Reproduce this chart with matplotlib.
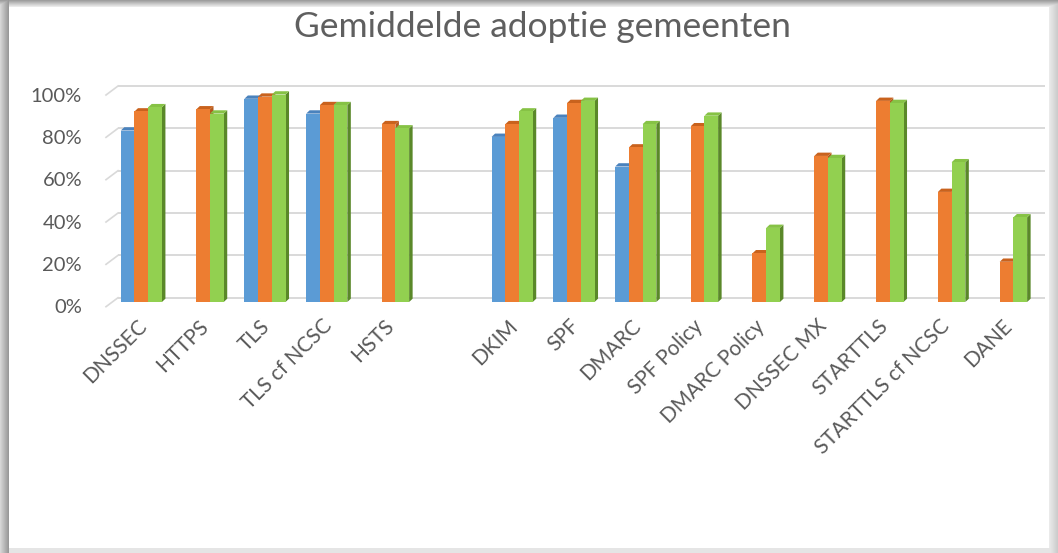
import numpy as np
import matplotlib
matplotlib.use("Agg")
import matplotlib.pyplot as plt
from matplotlib.patches import Polygon

# ---------------- data ----------------
categories = ["DNSSEC", "HTTPS", "TLS", "TLS cf NCSC", "HSTS", "",
              "DKIM", "SPF", "DMARC", "SPF Policy", "DMARC Policy",
              "DNSSEC MX", "STARTTLS", "STARTTLS cf NCSC", "DANE"]
series_blue = [81, None, 96, 89, None, None,
               78, 87, 64, None, None, None, None, None, None]
series_orange = [90, 91, 97, 93, 84, None,
                 84, 94, 73, 83, 23, 69, 95, 52, 19]
series_green = [92, 89, 98, 93, 82, None,
                90, 95, 84, 88, 35, 68, 94, 66, 40]
y_ticks = [0, 20, 40, 60, 80, 100]
y_ticklabels = ["0%", "20%", "40%", "60%", "80%", "100%"]
title = "Gemiddelde adoptie gemeenten"

# ---------------- figure ----------------
W, H = 1058, 553
DPI = 100
fig = plt.figure(figsize=(W / DPI, H / DPI), dpi=DPI)

# background frame with soft shadows (row 0 = top)
bg = np.ones((H, W, 3))
for x in range(0, 9):
    bg[:, x, :] = np.minimum(bg[:, x, :], 0.84 - 0.24 * x / 8)
for y in range(0, 7):
    bg[y, :, :] = np.minimum(bg[y, :, :], 0.62 + 0.05 * y)
for x in range(W - 9, W):
    bg[:, x, :] = np.minimum(bg[:, x, :], 0.92 - 0.12 * (x - (W - 9)) / 8)
for y in range(H - 5, H):
    bg[y, :, :] = np.minimum(bg[y, :, :], 0.90)
fig.figimage(bg, 0, 0, zorder=-5, origin="upper")

# plot area (front plane of bars), in pixels
left_px, right_px = 112.3, 1039.3
zero_px, hundred_px = 302.0, 90.3
ax = fig.add_axes([left_px / W, 1 - zero_px / H,
                   (right_px - left_px) / W, (zero_px - hundred_px) / H])
ax.set_zorder(2)
ax.set_xlim(-0.47, len(categories) - 0.47)
ax.set_ylim(0, 100)
ax.axis("off")
ax.patch.set_alpha(0)

ux = (len(categories)) / (right_px - left_px)      # data units per px (x)
uy = 100.0 / (zero_px - hundred_px)                # data units per px (y)

# back wall offset and floor-front offset (pixels)
back_dx, back_dy = 5.7 * ux, 4.3 * uy
floor_dx, floor_dy = -6.3 * ux, -4.7 * uy

grid_col = "#D9D9D9"
x0, x1 = ax.get_xlim()
for v in y_ticks:
    ax.plot([x0 + back_dx, x1 + back_dx], [v + back_dy, v + back_dy],
            color=grid_col, lw=1.4, zorder=1, clip_on=False,
            solid_capstyle="butt")
    ax.plot([x0 + back_dx, x0 + floor_dx], [v + back_dy, v + floor_dy],
            color=grid_col, lw=1.2, zorder=1, clip_on=False)

for v, lab in zip(y_ticks, y_ticklabels):
    ax.text(x0 + floor_dx - 24 * ux, v + floor_dy - 1.2 * uy, lab,
            ha="right", va="center", fontsize=14.5, color="#595959",
            family="Lato", clip_on=False)

# bars with 3D look
w = 0.222
dep_x, dep_y = 3.5 * ux, 3.3 * uy
styles = [
    (series_blue, -w, "#5B9BD5", "#3E6E9E", "#4A82BD"),
    (series_orange, 0.0, "#ED7D31", "#B35A1F", "#C9621D"),
    (series_green, w, "#92D050", "#5A8829", "#86C245"),
]
xs = np.arange(len(categories))
for k, (vals, off, front, side, top) in enumerate(styles):
    idx = [i for i, v in enumerate(vals) if v is not None]
    heights = [vals[i] for i in idx]
    pos = xs[idx] + off
    bars = ax.bar(pos, heights, width=w, color=front, edgecolor="none",
                  zorder=3 + 2 * k, clip_on=False)
    for b in bars:
        xl = b.get_x()
        xr = xl + b.get_width()
        h = b.get_height()
        ax.add_patch(Polygon([(xr, 0), (xr, h), (xr + dep_x, h + dep_y),
                              (xr + dep_x, dep_y)], closed=True,
                             facecolor=side, edgecolor="none",
                             zorder=2 + 2 * k, clip_on=False))
        ax.add_patch(Polygon([(xl, h), (xr, h), (xr + dep_x, h + dep_y),
                              (xl + dep_x, h + dep_y)], closed=True,
                             facecolor=top, edgecolor="none",
                             zorder=2 + 2 * k, clip_on=False))

# category labels
for i, lab in enumerate(categories):
    if not lab:
        continue
    ax.text(i + 2 * ux, -21 * uy, lab, rotation=45, rotation_mode="anchor",
            ha="right", va="center", fontsize=15, color="#595959",
            family="Lato", clip_on=False)

fig.text(542 / W, 1 - 27 / H, title, ha="center", va="center",
         fontsize=25.5, color="#5F5F5F", family="Lato")

fig.savefig("out.png", dpi=DPI)
